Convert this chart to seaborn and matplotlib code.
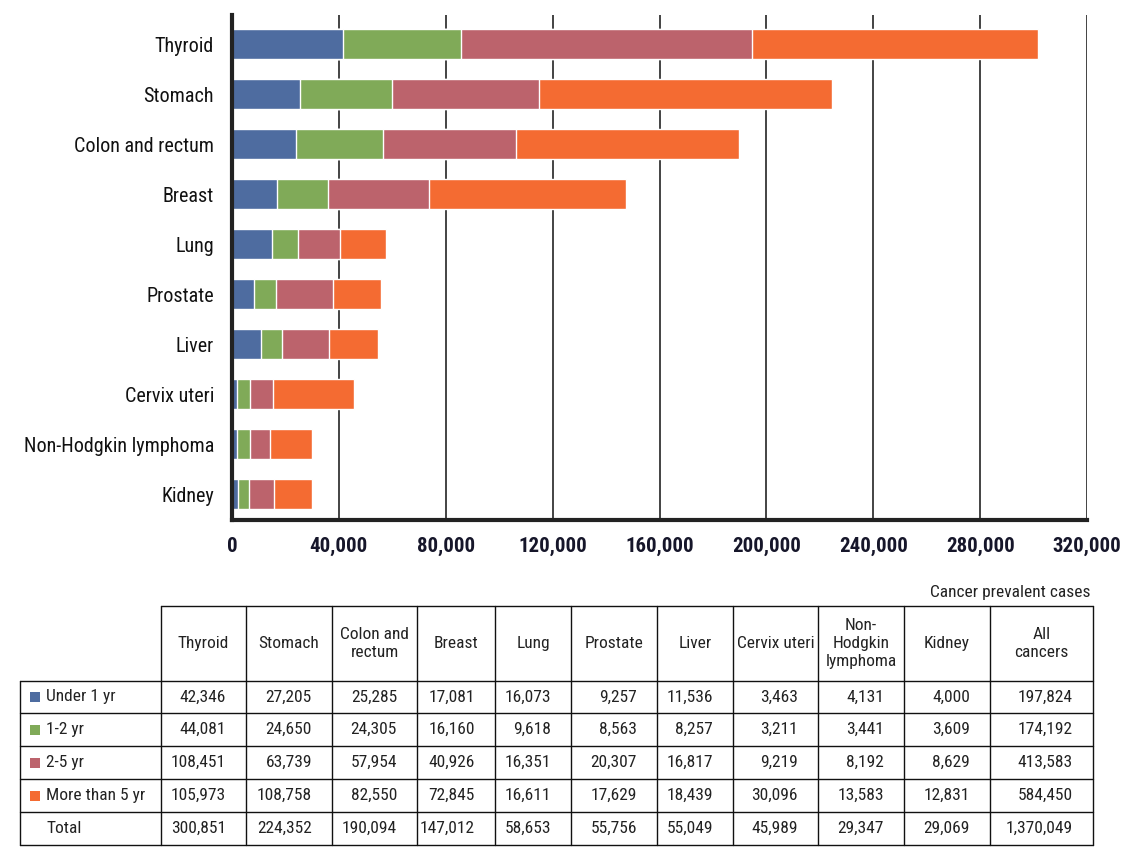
import matplotlib
matplotlib.use("Agg")
import matplotlib.pyplot as plt
from matplotlib import font_manager as fm
import seaborn as sns
import numpy as np

categories = ["Thyroid", "Stomach", "Colon and rectum", "Breast", "Lung", "Prostate",
              "Liver", "Cervix uteri", "Non-Hodgkin lymphoma", "Kidney"]
series_names = ["Under 1 yr", "1-2 yr", "2-5 yr", "More than 5 yr"]

# bar segment lengths as drawn in the chart
bar_under1 = [41400, 25300, 23800, 16700, 14800, 8400, 10700, 1700, 1700, 2400]
bar_1_2 = [44300, 34500, 32600, 19100, 9800, 7900, 7900, 4900, 4900, 3800]
bar_2_5 = [109000, 55100, 49900, 37900, 15700, 21400, 17600, 8600, 7500, 9400]
bar_over5 = [106800, 109500, 83600, 73900, 17300, 18000, 18400, 30400, 15700, 14200]

# table values
table_headers = ["Thyroid", "Stomach", "Colon and\nrectum", "Breast", "Lung", "Prostate",
                 "Liver", "Cervix uteri", "Non-\nHodgkin\nlymphoma", "Kidney", "All\ncancers"]
under1 = [42346, 27205, 25285, 17081, 16073, 9257, 11536, 3463, 4131, 4000]
yr1_2 = [44081, 24650, 24305, 16160, 9618, 8563, 8257, 3211, 3441, 3609]
yr2_5 = [108451, 63739, 57954, 40926, 16351, 20307, 16817, 9219, 8192, 8629]
over5 = [105973, 108758, 82550, 72845, 16611, 17629, 18439, 30096, 13583, 12831]
all_cancers = [197824, 174192, 413583, 584450]
totals = [300851, 224352, 190094, 147012, 58653, 55756, 55049, 45989, 29347, 29069]
grand_total = 1370049
xticks = [0, 40000, 80000, 120000, 160000, 200000, 240000, 280000, 320000]
colors = ["#4E6CA0", "#80AA58", "#BC636C", "#F46B32"]
unit_label = "Cancer prevalent cases"

sns.set_style("white")

# pick a condensed font if one is installed
entries = fm.fontManager.ttflist
names = {f.name for f in entries}
def _is_cond(f):
    s = f.stretch
    if isinstance(s, str):
        return s in ("condensed", "semi-condensed", "extra-condensed", "narrow")
    return s < 500

fam = None
stretch = "normal"
for cand in ["Liberation Sans Narrow", "Roboto Condensed", "Open Sans Condensed", "Noto Sans Display"]:
    if cand in names:
        fam = cand
        break
if fam is None:
    for f in entries:
        if f.name == "DejaVu Sans" and _is_cond(f):
            fam = "DejaVu Sans"
            stretch = "condensed"
            break
if fam is None:
    for f in entries:
        if _is_cond(f):
            fam = f.name
            stretch = "condensed"
            break
if fam is None:
    fam = "DejaVu Sans"
plt.rcParams["font.family"] = [fam, "DejaVu Sans"]
plt.rcParams["font.stretch"] = stretch

W, H = 1134, 860
fig = plt.figure(figsize=(W / 100, H / 100), dpi=100)
ax = fig.add_axes([232 / W, 1 - 520 / H, (1087 - 232) / W, (520 - 15) / H])

series = [bar_under1, bar_1_2, bar_2_5, bar_over5]
cum = np.cumsum(np.array(series), axis=0)
for i in reversed(range(4)):
    sns.barplot(x=cum[i], y=categories, orient="h", color=colors[i], saturation=1,
                width=0.6, ax=ax, zorder=2)

ax.set_xlim(0, 320000)
ax.set_ylim(9.52, -0.58)
ax.set_xticks(xticks)
ax.set_xticklabels([f"{v:,}" for v in xticks], fontsize=15, fontweight="bold", color="#16162a")
ax.tick_params(axis="x", length=0, pad=12)
ax.tick_params(axis="y", length=0, pad=13, labelsize=14.5, labelcolor="#111111")
for lab in ax.get_yticklabels():
    lab.set_y(lab.get_position()[1])
ax.set_xlabel("")
ax.set_ylabel("")
ax.grid(axis="x", color="#111111", linewidth=1.1)
ax.grid(axis="y", visible=False)
ax.set_axisbelow(True)
for s in ["top", "right"]:
    ax.spines[s].set_visible(False)
ax.spines["left"].set_linewidth(3)
ax.spines["bottom"].set_linewidth(3)
ax.spines["left"].set_color("#222222")
ax.spines["bottom"].set_color("#222222")

# table
tax = fig.add_axes([0, 0, 1, 1])
tax.set_xlim(0, W)
tax.set_ylim(H, 0)
tax.axis("off")

col_x = [20, 161, 246, 332, 417, 495, 571, 657, 733, 818, 904, 990, 1093]
row_y = [606, 681, 713, 746, 779, 812, 845]
lw = 1.0
lc = "#111111"
tax.plot([col_x[1], col_x[-1]], [row_y[0], row_y[0]], color=lc, lw=lw)
for y in row_y[1:]:
    tax.plot([col_x[0], col_x[-1]], [y, y], color=lc, lw=lw)
tax.plot([col_x[0], col_x[0]], [row_y[1], row_y[-1]], color=lc, lw=lw)
for x in col_x[1:]:
    tax.plot([x, x], [row_y[0], row_y[-1]], color=lc, lw=lw)

fs = 12.5
tc = "#222222"
tax.text(col_x[-1] - 2, 593, unit_label, ha="right", va="center", fontsize=fs, color=tc)
for j, h in enumerate(table_headers):
    tax.text((col_x[j + 1] + col_x[j + 2]) / 2, (row_y[0] + row_y[1]) / 2, h,
             ha="center", va="center", fontsize=fs, color=tc, linespacing=1.25)

rows = [under1, yr1_2, yr2_5, over5, totals]
row_all = all_cancers + [grand_total]
labels = series_names + ["Total"]
for r in range(5):
    yc = (row_y[r + 1] + row_y[r + 2]) / 2
    if r < 4:
        tax.add_patch(plt.Rectangle((30, yc - 5), 10, 10, color=colors[r], lw=0))
    tax.text(46, yc, labels[r], ha="left", va="center", fontsize=fs, color=tc)
    vals = rows[r] + [row_all[r]]
    for j, v in enumerate(vals):
        tax.text(col_x[j + 2] - 20, yc, f"{v:,}", ha="right", va="center",
                 fontsize=fs, color=tc)

fig.savefig("out.png", dpi=100)
